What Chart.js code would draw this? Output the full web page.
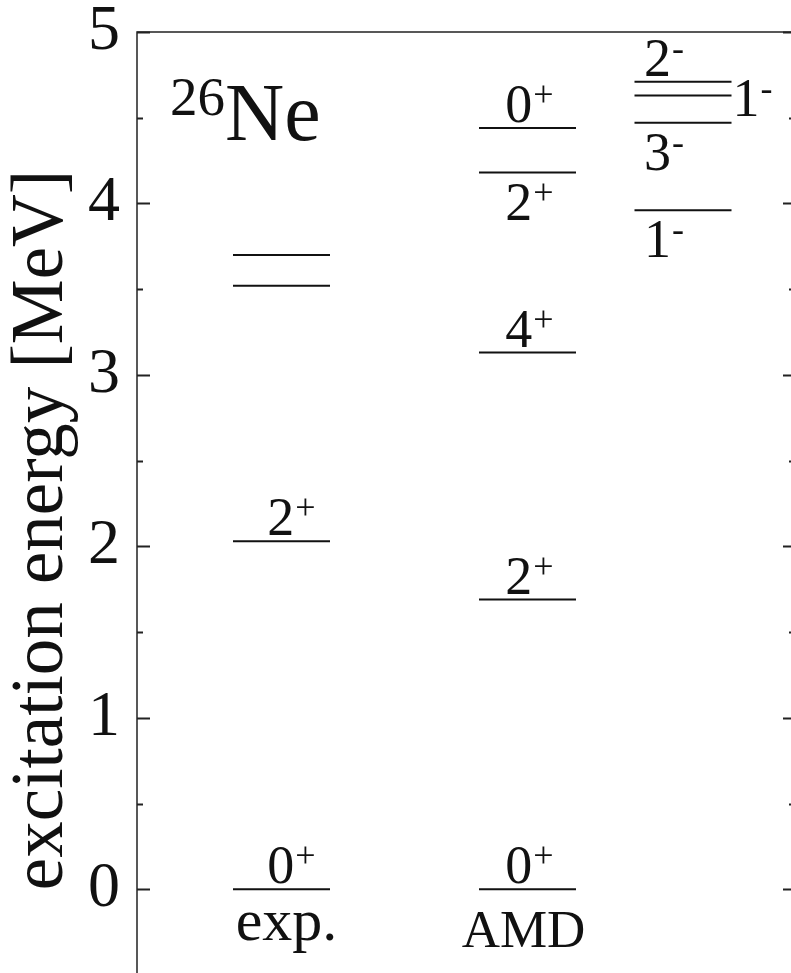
<!DOCTYPE html>
<html>
<head>
<meta charset="utf-8">
<script src="https://cdn.jsdelivr.net/npm/chart.js@4.4.0/dist/chart.umd.min.js"></script>
<style>
    html, body { margin: 0; padding: 0; background: #fff; overflow: hidden; }
    canvas { display: block; }
</style>
</head>
<body>
<canvas id="niveles" width="800" height="980"></canvas>
<script>
// Energías de excitación (MeV) de 26Ne por columna
const columnas = ['exp.', 'AMD', ''];
const nivelesExp = [0, 2.03, 3.52, 3.70];
const spinsExp = ['0+', '2+', '', ''];
const nivelesAmd = [0, 1.69, 3.13, 4.18, 4.44];
const spinsAmd = ['0+', '2+', '4+', '2+', '0+'];
const nivelesNeg = [3.96, 4.47, 4.63, 4.71];
const spinsNeg = ['1-', '3-', '1-', '2-'];
const yTicks = [0, 1, 2, 3, 4, 5];
const yMinorTicks = [0.5, 1.5, 2.5, 3.5, 4.5];

// Dónde va cada etiqueta respecto de su línea
const ladoExp = ['arriba', 'arriba', '', ''];
const ladoAmd = ['arriba', 'arriba', 'arriba', 'abajo', 'arriba'];
const ladoNeg = ['abajo', 'abajo', 'derecha', 'arriba'];

// Posición horizontal de las columnas (unidades del eje x, 0 a 6.58)
const centrosX = [1.445, 3.905, 5.46];
const mediaAncho = 0.485;
const corrimientoEtiqueta = [10, 2, -19];   // px
const corrimientoNombre = [[5, 51, 60], [-4, 58, 53]]; // dx, dy, tamaño

const FUENTE = '"Liberation Serif", "Times New Roman", serif';
const NEGRO = '#111';

const columnasDatos = [
    { niveles: nivelesExp, spins: spinsExp, lados: ladoExp },
    { niveles: nivelesAmd, spins: spinsAmd, lados: ladoAmd },
    { niveles: nivelesNeg, spins: spinsNeg, lados: ladoNeg }
];

// Un dataset por nivel: segmento horizontal a la energía del nivel
const datasets = [];
columnasDatos.forEach((col, i) => {
    col.niveles.forEach(e => {
        datasets.push({
            data: [{ x: centrosX[i] - mediaAncho, y: e }, { x: centrosX[i] + mediaAncho, y: e }],
            borderColor: NEGRO,
            borderWidth: 2,
            pointRadius: 0,
            showLine: true,
            fill: false
        });
    });
});

function dibujarSpin(ctx, texto, x, yBase, centrado) {
    const base = texto.slice(0, -1);
    const signo = texto.slice(-1);
    ctx.font = `54px ${FUENTE}`;
    const w1 = ctx.measureText(base).width;
    ctx.font = `36px ${FUENTE}`;
    const w2 = ctx.measureText(signo).width;
    const x0 = centrado ? x - (w1 + w2 + 1) / 2 : x;
    ctx.textAlign = 'left';
    ctx.textBaseline = 'alphabetic';
    ctx.font = `54px ${FUENTE}`;
    ctx.fillText(base, x0, yBase);
    ctx.font = `36px ${FUENTE}`;
    ctx.fillText(signo, x0 + w1 + 1, yBase - 16);
}

const decoraciones = {
    id: 'decoraciones',
    afterDatasetsDraw(chart) {
        const { ctx, chartArea: a, scales: { x, y } } = chart;
        ctx.save();
        ctx.strokeStyle = '#222';
        ctx.fillStyle = NEGRO;

        // Marco
        ctx.lineWidth = 1.5;
        ctx.strokeRect(a.left, a.top, a.right - a.left, a.bottom - a.top);

        // Marcas hacia adentro en ambos lados
        ctx.lineWidth = 2;
        ctx.beginPath();
        yTicks.forEach(v => {
            const py = Math.round(y.getPixelForValue(v)) + 0.5;
            ctx.moveTo(a.left, py); ctx.lineTo(a.left + 13, py);
            ctx.moveTo(a.right, py); ctx.lineTo(a.right - 12, py);
        });
        yMinorTicks.forEach(v => {
            const py = Math.round(y.getPixelForValue(v)) + 0.5;
            ctx.moveTo(a.left, py); ctx.lineTo(a.left + 6, py);
            ctx.moveTo(a.right, py); ctx.lineTo(a.right - 6, py);
        });
        ctx.stroke();

        // Números del eje y
        ctx.font = `64px ${FUENTE}`;
        ctx.textAlign = 'right';
        ctx.textBaseline = 'middle';
        yTicks.forEach(v => ctx.fillText(String(v), a.left - 17, y.getPixelForValue(v)));

        // Etiquetas de espín y paridad
        columnasDatos.forEach((col, i) => {
            col.niveles.forEach((e, j) => {
                const texto = col.spins[j];
                if (!texto) return;
                const py = y.getPixelForValue(e);
                const cx = x.getPixelForValue(centrosX[i]) + corrimientoEtiqueta[i];
                const lado = col.lados[j];
                if (lado === 'arriba') dibujarSpin(ctx, texto, cx, py - 6, true);
                else if (lado === 'abajo') dibujarSpin(ctx, texto, cx, py + 47, true);
                else dibujarSpin(ctx, texto, x.getPixelForValue(centrosX[i] + mediaAncho) + 1, py + 21, false);
            });
        });

        // Nombres de columna bajo el estado fundamental
        const y0 = y.getPixelForValue(0);
        columnas.forEach((nombre, i) => {
            if (!nombre) return;
            const [dx, dy, tam] = corrimientoNombre[i];
            ctx.font = `${tam}px ${FUENTE}`;
            ctx.textAlign = 'center';
            ctx.textBaseline = 'alphabetic';
            ctx.fillText(nombre, x.getPixelForValue(centrosX[i]) + dx, y0 + dy);
        });

        // Núcleo
        ctx.textAlign = 'left';
        ctx.font = `55px ${FUENTE}`;
        const wMasa = ctx.measureText('26').width;
        ctx.fillText('26', 170, 115);
        ctx.font = `82px ${FUENTE}`;
        ctx.fillText('Ne', 170 + wMasa, 140);

        // Título del eje y
        ctx.translate(62, 530);
        ctx.rotate(-Math.PI / 2);
        ctx.textAlign = 'center';
        ctx.font = `73px ${FUENTE}`;
        ctx.fillText('excitation energy [MeV]', 0, 0);
        ctx.restore();
    }
};

new Chart(document.getElementById('niveles').getContext('2d'), {
    type: 'scatter',
    data: { datasets },
    options: {
        responsive: false,
        animation: false,
        devicePixelRatio: 1,
        layout: { autoPadding: false, padding: { top: 32, right: 5, bottom: 5, left: 0 } },
        plugins: {
            legend: { display: false },
            tooltip: { enabled: false }
        },
        scales: {
            x: { type: 'linear', min: 0, max: 6.58, display: false },
            y: {
                min: -0.5,
                max: 5,
                afterBuildTicks: s => { s.ticks = yTicks.map(v => ({ value: v })); },
                afterFit: s => { s.width = 137; },
                grid: { display: false, drawTicks: false },
                border: { display: false },
                ticks: { display: false }
            }
        }
    },
    plugins: [decoraciones]
});
</script>
</body>
</html>
